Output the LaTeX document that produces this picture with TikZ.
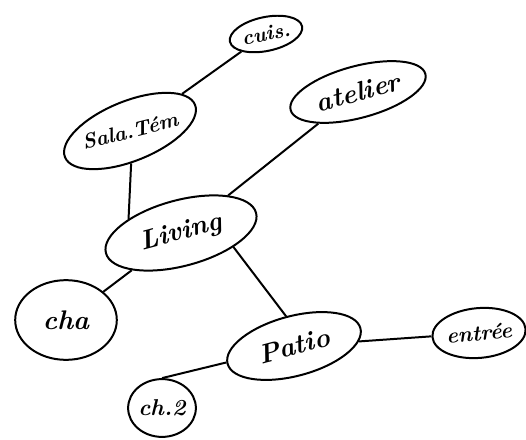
\documentclass[tikz,border=0pt]{standalone}
\usetikzlibrary{shapes.geometric}
\tikzset{room/.style={draw, ellipse, line width=2pt, inner sep=0pt,
	font=\bfseries\itshape\fontsize{27}{29}\selectfont}}
\begin{document}
\begin{tikzpicture}[x=1bp,y=-1bp,line width=2pt]
\useasboundingbox (0,0) rectangle (526,440);

\node[room, rotate=12, minimum width=74, minimum height=34] (cuis) at (266,34) {\fontsize{21}{23}\selectfont cuis.};
\node[room, rotate=22, minimum width=118, minimum height=60] (salle) at (130,131) {\rotatebox{-8}{\fontsize{21}{23}\selectfont Sala.Tém}};
\node[room, rotate=15, minimum width=140, minimum height=52] (atelier) at (358,92) {atelier};
\node[room, rotate=15, minimum width=156, minimum height=66] (living) at (181,233) {Living};
\node[room, minimum width=102, minimum height=80] (cha) at (66,320) {cha};
\node[room, rotate=15, minimum width=138, minimum height=60] (patio) at (294,346) {Patio};
\node[room, rotate=5, minimum width=92, minimum height=50] (entree) at (479,333) {\fontsize{22}{24}\selectfont entrée};
\node[room, minimum width=68, minimum height=58] (ch2) at (162,408) {\fontsize{23}{25}\selectfont ch.2};

\foreach \a/\b in {cuis/salle, atelier/living, living/cha, patio/entree}
	\draw (\a) -- (\b);
\draw (salle.-110) -- (living.150);
\draw (living.-30) -- (patio.north);
\draw (ch2.north) -- (patio);
\end{tikzpicture}
\end{document}
